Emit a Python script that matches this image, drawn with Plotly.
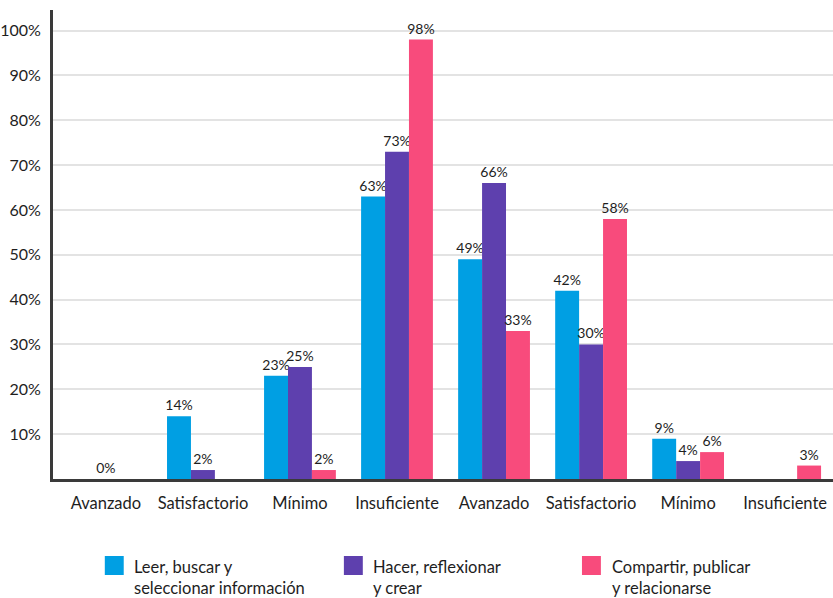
import plotly.graph_objects as go

# Nivel de desempeño por competencia digital (dos grupos de cuatro niveles)
categorias = ["Avanzado", "Satisfactorio", "Mínimo", "Insuficiente",
              "Avanzado", "Satisfactorio", "Mínimo", "Insuficiente"]

series = [
    "Leer, buscar y<br>seleccionar información",
    "Hacer, reflexionar<br>y crear",
    "Compartir, publicar<br>y relacionarse",
]
leer = [0, 14, 23, 63, 49, 42, 9, 0]
hacer = [0, 2, 25, 73, 66, 30, 4, 0]
compartir = [0, 0, 2, 98, 33, 58, 6, 3]

# etiquetas visibles de cada barra ("" = sin etiqueta)
etq_leer = ["", "14%", "23%", "63%", "49%", "42%", "9%", ""]
etq_hacer = ["0%", "2%", "25%", "73%", "66%", "30%", "4%", ""]
etq_compartir = ["", "", "2%", "98%", "33%", "58%", "6%", "3%"]

y_ticks = [10, 20, 30, 40, 50, 60, 70, 80, 90, 100]
y_ticktext = [f"{v}%" for v in y_ticks]

colores = ["#009FE3", "#5E40AE", "#F84B7C"]
FONT = "Lato, 'Noto Sans', sans-serif"
TXT = "#1e1e1e"

W, H = 833, 598
M_L, M_R, M_T, M_B = 50, 0, 10, 119
plot_w = W - M_L - M_R
plot_h = H - M_T - M_B

x = list(range(len(categorias)))

fig = go.Figure()
for nombre, vals, etq, col in zip(series,
                                  [leer, hacer, compartir],
                                  [etq_leer, etq_hacer, etq_compartir],
                                  colores):
    fig.add_trace(go.Bar(
        x=x, y=vals, name=nombre, marker=dict(color=col, line=dict(width=0)),
        text=etq, textposition="outside", cliponaxis=False,
        constraintext="none",
        textfont=dict(family=FONT, size=14, color=TXT),
        showlegend=False,
    ))


def px_x(px):
    return (px - M_L) / plot_w


def px_y(py):
    return (H - M_B - py) / plot_h


# leyenda inferior dibujada con cuadros y textos
leyenda_cuadro_x = [102, 342, 581]
leyenda_texto_x = [131, 371, 611]
shapes = []
annotations = []
for nombre, col, qx, tx in zip(series, colores, leyenda_cuadro_x, leyenda_texto_x):
    shapes.append(dict(type="rect", xref="paper", yref="paper",
                       x0=px_x(qx), x1=px_x(qx + 19),
                       y0=px_y(575), y1=px_y(556),
                       fillcolor=col, line=dict(width=0)))
    annotations.append(dict(xref="paper", yref="paper", x=px_x(tx - 2), y=px_y(577),
                            xanchor="left", yanchor="middle", align="left",
                            text=nombre, showarrow=False,
                            font=dict(family=FONT, size=16.5, color=TXT)))

fig.update_layout(
    width=W, height=H,
    margin=dict(l=M_L, r=M_R, t=M_T, b=M_B),
    paper_bgcolor="white", plot_bgcolor="white",
    barmode="group", bargap=0.26, bargroupgap=0,
    font=dict(family=FONT, color=TXT),
    shapes=shapes, annotations=annotations,
    xaxis=dict(
        tickmode="array", tickvals=x, ticktext=categorias,
        range=[-0.545, 7.493], showgrid=False, zeroline=False,
        showline=True, linecolor="#3a3a3a", linewidth=3,
        ticks="", ticklabelstandoff=7,
        tickfont=dict(family=FONT, size=16.5, color=TXT),
    ),
    yaxis=dict(
        range=[0, 104.6], tickmode="array", tickvals=y_ticks, ticktext=y_ticktext,
        showgrid=True, gridcolor="#E3E3E3", gridwidth=2, zeroline=False,
        showline=True, linecolor="#3a3a3a", linewidth=3,
        ticks="", ticklabelstandoff=6,
        tickfont=dict(family=FONT, size=16, color=TXT),
    ),
)

fig.write_html("out.html")
